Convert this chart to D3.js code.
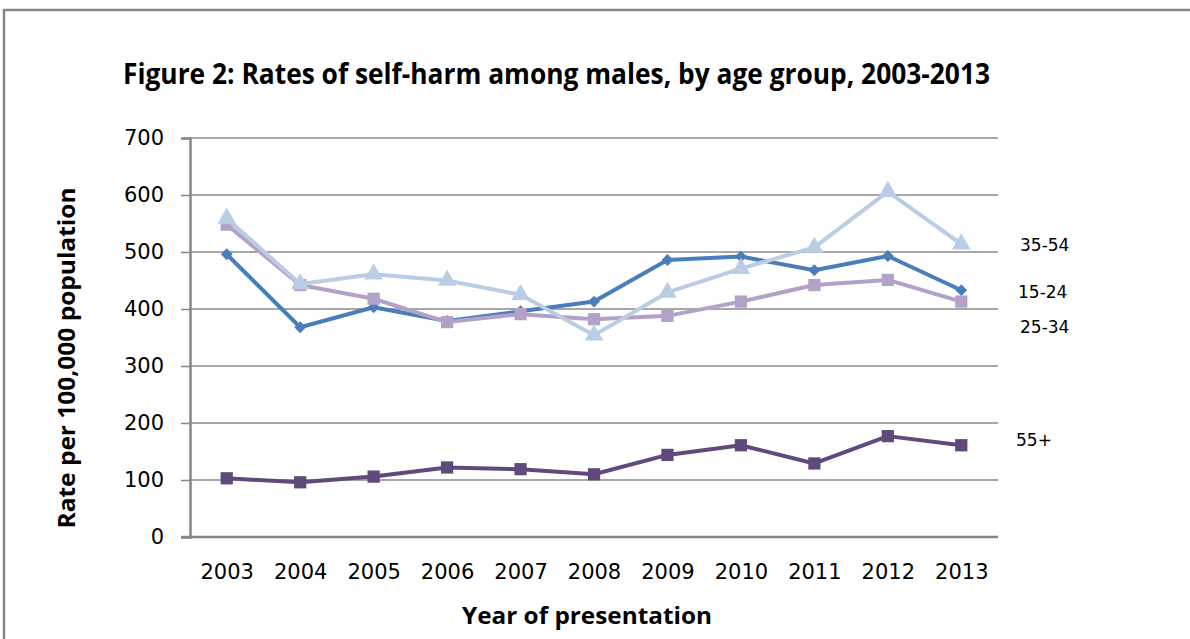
<!DOCTYPE html>
<html>
<head>
<meta charset="utf-8">
<script src="https://cdn.jsdelivr.net/npm/d3@7"></script>
<style>
  html, body { margin: 0; padding: 0; background: #fff; }
  svg { display: block; }
</style>
</head>
<body>
<svg id="chart" width="1190" height="639"></svg>
<script>
// Years of presentation
const years = ["2003","2004","2005","2006","2007","2008","2009","2010","2011","2012","2013"];
// Rates per 100,000 population, males, by age group
const age15to24 = [496, 368, 403, 379, 396, 413, 486, 492, 468, 493, 433];
const age25to34 = [548, 442, 418, 377, 391, 382, 388, 413, 442, 451, 413];
const age35to54 = [559, 444, 461, 450, 425, 354, 429, 471, 508, 606, 514];
const age55plus = [103, 96, 106, 122, 119, 110, 144, 161, 129, 177, 161];
const yTicks = [0, 100, 200, 300, 400, 500, 600, 700];

const series = [
  { name: "15-24", values: age15to24, color: "#4a7ebb", marker: "diamond", labelDy: 2, labelX: 1018 },
  { name: "25-34", values: age25to34, color: "#b3a2c7", marker: "square", labelDy: 25, labelX: 1020 },
  { name: "35-54", values: age35to54, color: "#b9cde5", marker: "triangle", labelDy: 1, labelX: 1020 },
  { name: "55+", values: age55plus, color: "#604a7b", marker: "square", labelDy: -5, labelX: 1016 }
];

const svg = d3.select("#chart");
const plotLeft = 190, plotRight = 998, plotTop = 138, plotBottom = 537;

// outer frame (only top and left edges fall inside the view)
svg.append("rect")
  .attr("x", 4).attr("y", 10).attr("width", 1300).attr("height", 800)
  .attr("fill", "none").attr("stroke", "#878787").attr("stroke-width", 2.5);

const x = d3.scalePoint().domain(years).range([plotLeft, plotRight]).padding(0.5);
const y = d3.scaleLinear().domain([0, 700]).range([plotBottom, plotTop]);

// horizontal gridlines
svg.append("g")
  .selectAll("line").data(yTicks.filter(d => d > 0)).join("line")
  .attr("x1", plotLeft).attr("x2", plotRight)
  .attr("y1", d => y(d)).attr("y2", d => y(d))
  .attr("stroke", "#8a8a8a").attr("stroke-width", 1.5);

// y axis
const yAxis = svg.append("g")
  .attr("transform", `translate(${plotLeft},0)`)
  .call(d3.axisLeft(y).tickValues(yTicks).tickSize(9).tickPadding(17).tickFormat(d3.format("d")));
yAxis.select(".domain").attr("stroke", "#878787").attr("stroke-width", 2.5);
yAxis.selectAll(".tick line").attr("stroke", "#878787").attr("stroke-width", 1.5);
yAxis.selectAll(".tick text")
  .attr("font-family", "DejaVu Sans").attr("font-size", 21).attr("fill", "#000");

// x axis (no tick marks)
const xAxis = svg.append("g")
  .attr("transform", `translate(0,${plotBottom})`)
  .call(d3.axisBottom(x).tickSize(0).tickPadding(27));
xAxis.select(".domain").attr("stroke", "#878787").attr("stroke-width", 2.5)
  .attr("d", `M${plotLeft - 9},0H${plotRight}`);
xAxis.selectAll(".tick text")
  .attr("font-family", "DejaVu Sans").attr("font-size", 21).attr("fill", "#000");

// lines and markers
const line = d3.line().x((d, i) => x(years[i])).y(d => y(d));
const symbolType = { diamond: d3.symbolSquare, square: d3.symbolSquare, triangle: d3.symbolTriangle };
const symbolSize = { diamond: 70, square: 150, triangle: 150 };
const symbolRotate = { diamond: 45, square: 0, triangle: 0 };

series.forEach(s => {
  const g = svg.append("g");
  g.append("path")
    .attr("d", line(s.values))
    .attr("fill", "none").attr("stroke", s.color).attr("stroke-width", 4)
    .attr("stroke-linejoin", "round");
  g.selectAll("path.marker").data(s.values).join("path")
    .attr("class", "marker")
    .attr("transform", (d, i) => `translate(${x(years[i])},${y(d)}) rotate(${symbolRotate[s.marker]})`)
    .attr("d", d3.symbol().type(symbolType[s.marker]).size(symbolSize[s.marker]))
    .attr("fill", s.color);
  // series label to the right of the last point
  const last = s.values[s.values.length - 1];
  svg.append("text")
    .attr("x", s.labelX).attr("y", y(last) + s.labelDy)
    .attr("dy", "0.35em")
    .attr("font-family", "DejaVu Sans").attr("font-size", 17).attr("fill", "#000")
    .text(s.name);
});

// title
svg.append("text")
  .attr("x", 123).attr("y", 84)
  .attr("font-family", "Open Sans").attr("font-weight", "bold").attr("font-size", 29)
  .attr("textLength", 867).attr("lengthAdjust", "spacingAndGlyphs")
  .text("Figure 2: Rates of self-harm among males, by age group, 2003-2013");

// axis titles
svg.append("text")
  .attr("transform", "translate(75,358) rotate(-90)")
  .attr("text-anchor", "middle")
  .attr("font-family", "Open Sans").attr("font-weight", "bold").attr("font-size", 23)
  .attr("textLength", 341).attr("lengthAdjust", "spacingAndGlyphs")
  .text("Rate per 100,000 population");

svg.append("text")
  .attr("x", 587).attr("y", 624)
  .attr("text-anchor", "middle")
  .attr("font-family", "Open Sans").attr("font-weight", "bold").attr("font-size", 23)
  .attr("textLength", 250).attr("lengthAdjust", "spacingAndGlyphs")
  .text("Year of presentation");
</script>
</body>
</html>
